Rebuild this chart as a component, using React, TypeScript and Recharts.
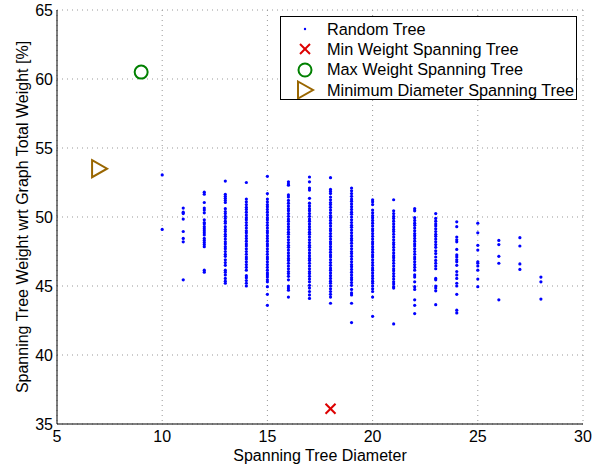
import React from 'react';
import {
  ScatterChart,
  Scatter,
  XAxis,
  YAxis,
  CartesianGrid,
  Legend,
} from 'recharts';

// y values (weight %) of the random trees, one list per tree diameter
const d10 = [53.05, 49.1];
const d11 = [50.65, 50.35, 50.25, 49.85, 48.95, 48.45, 48.2, 45.45];
const d12 = [51.8, 51.65, 51.05, 50.65, 50.5, 50.3, 49.8, 49.6, 49.5, 49.3, 49.15, 49.0, 48.85, 48.7, 48.45, 48.3, 48.15, 48.0, 47.85, 46.15, 46.0];
const d13 = [52.6, 51.65, 51.5, 51.35, 51.2, 51.05, 50.6, 50.4, 50.25, 50.05, 49.9, 49.7, 49.55, 49.3, 49.1, 48.95, 48.75, 48.6, 48.4, 48.2, 48.05, 47.85, 47.7, 47.5, 47.3, 47.15, 46.9, 46.7, 46.5, 46.15, 46.0, 45.8, 45.55, 45.35, 45.2];
const d14 = [52.5, 51.3, 51.1, 50.9, 50.7, 50.55, 50.35, 50.15, 49.95, 49.8, 49.6, 49.4, 49.2, 49.0, 48.85, 48.65, 48.45, 48.25, 48.05, 47.9, 47.7, 47.5, 47.3, 47.1, 46.95, 46.75, 46.55, 46.35, 46.15, 45.75, 45.6, 45.4, 45.2, 45.0];
const d15 = [52.95, 51.7, 51.3, 51.1, 50.9, 50.75, 50.55, 50.35, 50.15, 49.95, 49.8, 49.6, 49.4, 49.2, 49.0, 48.85, 48.65, 48.45, 48.25, 48.05, 47.9, 47.7, 47.5, 47.3, 47.1, 46.95, 46.75, 46.55, 46.35, 46.15, 45.95, 45.8, 45.65, 45.45, 45.3, 44.95, 44.4, 43.6];
const d16 = [52.55, 52.4, 52.3, 51.6, 51.45, 51.2, 51.0, 50.8, 50.6, 50.45, 50.25, 50.05, 49.85, 49.7, 49.5, 49.3, 49.1, 48.9, 48.75, 48.55, 48.35, 48.15, 47.95, 47.8, 47.6, 47.4, 47.2, 47.0, 46.85, 46.65, 46.45, 46.25, 46.05, 45.9, 45.7, 45.45, 45.0, 44.85, 44.7, 44.2];
const d17 = [52.9, 52.55, 52.1, 51.95, 51.35, 51.0, 50.8, 50.6, 50.45, 50.25, 50.05, 49.85, 49.7, 49.5, 49.3, 49.1, 48.9, 48.75, 48.55, 48.35, 48.15, 47.95, 47.8, 47.6, 47.4, 47.2, 47.0, 46.85, 46.65, 46.45, 46.25, 46.05, 45.9, 45.7, 45.5, 45.3, 45.05, 44.85, 44.6, 44.35, 44.1];
const d18 = [52.85, 52.0, 51.85, 51.7, 51.45, 51.25, 51.05, 50.9, 50.7, 50.5, 50.3, 50.1, 49.95, 49.75, 49.55, 49.35, 49.15, 49.0, 48.8, 48.6, 48.4, 48.2, 48.05, 47.85, 47.65, 47.45, 47.25, 47.1, 46.9, 46.7, 46.5, 46.3, 46.15, 45.95, 45.75, 45.55, 45.35, 45.2, 45.0, 44.8, 44.6, 44.4, 44.2, 43.75];
const d19 = [52.1, 51.9, 51.7, 51.5, 51.3, 51.15, 50.95, 50.75, 50.55, 50.35, 50.2, 50.0, 49.8, 49.6, 49.4, 49.25, 49.05, 48.85, 48.65, 48.45, 48.3, 48.1, 47.9, 47.7, 47.5, 47.35, 47.15, 46.95, 46.75, 46.55, 46.4, 46.2, 46.0, 45.8, 45.6, 45.45, 45.25, 45.05, 44.75, 44.5, 44.35, 43.75, 42.35];
const d20 = [51.25, 51.1, 50.9, 50.5, 50.3, 50.1, 49.95, 49.75, 49.55, 49.35, 49.15, 49.0, 48.8, 48.6, 48.4, 48.2, 48.05, 47.85, 47.65, 47.45, 47.25, 47.1, 46.9, 46.7, 46.5, 46.3, 46.15, 45.95, 45.75, 45.55, 45.35, 45.2, 45.0, 44.8, 44.6, 44.2, 42.8];
const d21 = [51.25, 50.45, 50.25, 50.05, 49.9, 49.7, 49.5, 49.3, 49.1, 48.95, 48.75, 48.55, 48.35, 48.15, 48.0, 47.8, 47.6, 47.4, 47.2, 47.05, 46.85, 46.65, 46.45, 46.25, 46.1, 45.9, 45.7, 45.5, 45.3, 45.15, 44.95, 44.85, 42.25];
const d22 = [50.6, 50.45, 49.95, 49.75, 49.55, 49.4, 49.2, 49.0, 48.8, 48.65, 48.45, 48.25, 48.05, 47.9, 47.7, 47.5, 47.3, 47.1, 46.95, 46.75, 46.55, 46.35, 46.15, 45.8, 45.65, 45.3, 44.95, 44.75, 44.0, 43.6, 43.0];
const d23 = [50.25, 49.9, 49.7, 49.5, 49.35, 49.15, 48.95, 48.75, 48.6, 48.4, 48.2, 48.0, 47.8, 47.55, 47.35, 47.1, 46.85, 46.65, 46.45, 46.25, 45.55, 45.45, 45.0, 44.85, 44.65, 43.65];
const d24 = [49.65, 49.3, 48.55, 48.35, 48.2, 47.65, 47.25, 47.1, 46.9, 46.75, 46.5, 46.05, 45.8, 45.55, 45.2, 45.0, 44.4, 43.25, 43.05];
const d25 = [49.55, 48.85, 47.95, 47.6, 46.75, 46.65, 46.45, 46.15, 45.5, 44.95];
const d26 = [48.3, 48.0, 47.15, 46.65, 44.0];
const d27 = [48.5, 47.9, 46.6, 46.2];
const d28 = [45.65, 45.3, 44.05];

const diameters = [10, 11, 12, 13, 14, 15, 16, 17, 18, 19, 20, 21, 22, 23, 24, 25, 26, 27, 28];
const weightsByDiameter = [d10, d11, d12, d13, d14, d15, d16, d17, d18, d19, d20, d21, d22, d23, d24, d25, d26, d27, d28];

const minWeightTree = [{ x: 18, y: 36.1 }];
const maxWeightTree = [{ x: 9, y: 60.5 }];
const minDiameterTree = [{ x: 7, y: 53.5 }];

const xTicks = [5, 10, 15, 20, 25, 30];
const yTicks = [35, 40, 45, 50, 55, 60, 65];

const legendNames = [
  'Random Tree',
  'Min Weight Spanning Tree',
  'Max Weight Spanning Tree',
  'Minimum Diameter Spanning Tree',
];

const FONT = '"Liberation Sans", Arial, Helvetica, sans-serif';
const BLUE = '#0000ff';
const RED = '#dd0000';
const GREEN = '#008000';
const BROWN = '#996600';

const randomTree = diameters.flatMap((d, i) => weightsByDiameter[i].map((w) => ({ x: d, y: w })));

const Dot = ({ cx, cy, r = 1.6 }: any) => <circle cx={cx} cy={cy} r={r} fill={BLUE} />;
const Cross = ({ cx, cy }: any) => (
  <g stroke={RED} strokeWidth={2}>
    <line x1={cx - 5} y1={cy - 5} x2={cx + 5} y2={cy + 5} />
    <line x1={cx - 5} y1={cy + 5} x2={cx + 5} y2={cy - 5} />
  </g>
);
const Ring = ({ cx, cy }: any) => (
  <circle cx={cx} cy={cy} r={6.5} fill="none" stroke={GREEN} strokeWidth={2} />
);
const Triangle = ({ cx, cy }: any) => (
  <polygon
    points={`${cx - 7},${cy - 8.5} ${cx + 8},${cy} ${cx - 7},${cy + 8.5}`}
    fill="none"
    stroke={BROWN}
    strokeWidth={2}
  />
);

const markers: Record<string, (p: any) => React.ReactElement> = {
  'Random Tree': (p) => <Dot {...p} r={1.2} />,
  'Min Weight Spanning Tree': Cross,
  'Max Weight Spanning Tree': Ring,
  'Minimum Diameter Spanning Tree': Triangle,
};

const renderLegend = () => (
  <div
    style={{
      width: 297,
      height: 84,
      boxSizing: 'border-box',
      border: '1px solid #000',
      background: '#fff',
      overflow: 'hidden',
      paddingTop: 2,
      fontFamily: FONT,
      fontSize: 16.3,
      color: '#000',
    }}
  >
    {legendNames.map((name) => {
      const Marker = markers[name];
      return (
        <div
          key={name}
          style={{ display: 'flex', alignItems: 'center', height: 20.3, whiteSpace: 'nowrap' }}
        >
          <svg width={46} height={20} style={{ flex: 'none' }}>
            <Marker cx={24} cy={10} />
          </svg>
          <span>{name}</span>
        </div>
      );
    })}
  </div>
);

const yLabel = 'Spanning Tree Weight wrt Graph Total Weight [%]';

export default function App() {
  return (
    <div style={{ position: 'absolute', left: 0, top: 0 }}>
      <ScatterChart width={603} height={468} margin={{ top: 10, right: 20, left: 0, bottom: 0 }}>
        <CartesianGrid stroke="#999" strokeDasharray="1 4" />
        <XAxis
          type="number"
          dataKey="x"
          domain={[5, 30]}
          ticks={xTicks}
          allowDataOverflow
          height={44}
          tickLine={false}
          tickSize={5}
          tickMargin={2}
          axisLine={{ stroke: '#000' }}
          tick={{ fill: '#000', fontSize: 16, fontFamily: FONT }}
          label={{
            value: 'Spanning Tree Diameter',
            position: 'insideBottom',
            offset: 7,
            fill: '#000',
            fontSize: 16,
            fontFamily: FONT,
          }}
        />
        <YAxis
          type="number"
          dataKey="y"
          domain={[35, 65]}
          ticks={yTicks}
          allowDataOverflow
          width={57}
          tickLine={false}
          tickSize={2}
          tickMargin={2}
          axisLine={{ stroke: '#000' }}
          tick={{ fill: '#000', fontSize: 16, fontFamily: FONT }}
          label={{
            value: yLabel,
            content: () => (
              <text
                x={22}
                y={217}
                transform="rotate(-90, 22, 217)"
                textAnchor="middle"
                dominantBaseline="central"
                fill="#000"
                fontSize={16}
                fontFamily={FONT}
              >
                {yLabel}
              </text>
            ),
          }}
        />
        <Legend
          layout="vertical"
          align="center"
          verticalAlign="middle"
          content={renderLegend}
          wrapperStyle={{ left: 280, top: 16, width: 297, height: 84 }}
        />
        <Scatter name="Random Tree" data={randomTree} shape={Dot} isAnimationActive={false} />
        <Scatter name="Min Weight Spanning Tree" data={minWeightTree} shape={Cross} isAnimationActive={false} />
        <Scatter name="Max Weight Spanning Tree" data={maxWeightTree} shape={Ring} isAnimationActive={false} />
        <Scatter name="Minimum Diameter Spanning Tree" data={minDiameterTree} shape={Triangle} isAnimationActive={false} />
      </ScatterChart>
    </div>
  );
}
